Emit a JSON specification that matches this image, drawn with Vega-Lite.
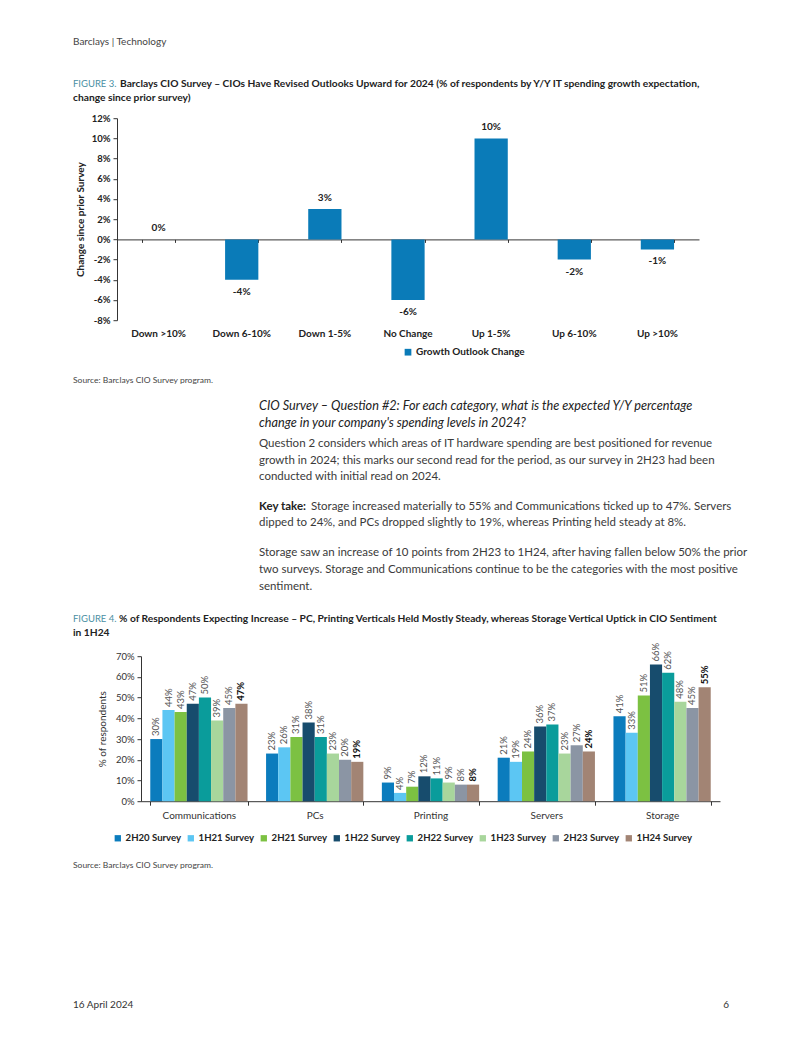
{
  "$schema": "https://vega.github.io/schema/vega-lite/v6.json",
  "background": "white",
  "padding": {"left": 73, "top": 36.2, "right": 5, "bottom": 5},
  "spacing": 0,
  "bounds": "flush",
  "resolve": {"scale": {"color": "independent"}, "legend": {"color": "independent"}},
  "config": {
    "font": "Lato",
    "view": {"stroke": null},
    "title": {"anchor": "start", "frame": "group", "orient": "bottom", "baseline": "top", "dx": -44, "font": "Lato", "subtitleFont": "Lato", "fontWeight": "normal", "color": "#222"},
    "axis": {"grid": false, "labelFont": "Lato", "titleFont": "Lato", "domainColor": "#333", "tickColor": "#333", "labelColor": "#222", "titleColor": "#222"},
    "legend": {"labelFont": "Lato"}
  },
  "vconcat": [
    {"width": 582, "height": 1, "data": {"values": []}, "mark": "point",
     "title": {"text": "Barclays | Technology", "fontSize": 10, "color": "#444", "offset": -79.1}},
    {"width": 582, "height": 1, "data": {"values": []}, "mark": "point",
     "title": {"text": "FIGURE 3.", "fontSize": 9.5, "color": "#4a8fa3", "offset": -38,
       "subtitle": "change since prior survey)", "subtitleFontSize": 10.25, "subtitleFontWeight": "bold", "subtitleColor": "#222", "subtitlePadding": 3.9}},
    {"width": 582, "height": 1, "data": {"values": []}, "mark": "point",
     "title": {"text": "Barclays CIO Survey – CIOs Have Revised Outlooks Upward for 2024 (% of respondents by Y/Y IT spending growth expectation,",
       "fontSize": 10.25, "fontWeight": "bold", "color": "#222", "dx": 3, "offset": -39.6}},
    {
      "width": 582, "height": 202,
      "data": {"values": [
        {"bucket": "Down >10%", "change": 0, "label": "0%"},
        {"bucket": "Down 6-10%", "change": -4, "label": "-4%"},
        {"bucket": "Down 1-5%", "change": 3, "label": "3%"},
        {"bucket": "No Change", "change": -6, "label": "-6%"},
        {"bucket": "Up 1-5%", "change": 10, "label": "10%"},
        {"bucket": "Up 6-10%", "change": -2, "label": "-2%"},
        {"bucket": "Up >10%", "change": -1, "label": "-1%"}
      ]},
      "encoding": {
        "y": {"field": "change", "type": "quantitative",
          "scale": {"domain": [-8, 12], "nice": false, "zero": false},
          "axis": {"values": [-8, -6, -4, -2, 0, 2, 4, 6, 8, 10, 12], "labelExpr": "datum.value + '%'",
            "labelFontSize": 9.5, "labelFontWeight": "bold", "labelPadding": 3, "tickSize": 4,
            "title": "Change since prior Survey", "titleFontSize": 10, "titleFontWeight": "bold", "titlePadding": 6}}
      },
      "layer": [
        {"mark": {"type": "bar", "opacity": 0},
         "encoding": {"x": {"field": "bucket", "type": "nominal", "sort": null,
           "scale": {"paddingInner": 0.6, "paddingOuter": 0.3},
           "axis": {"orient": "bottom", "offset": -80.8, "labels": false, "domain": true, "ticks": true, "tickBand": "extent", "tickSize": 3, "title": null}}}},
        {"mark": {"type": "bar"},
         "encoding": {"x": {"field": "bucket", "type": "nominal", "sort": null,
           "axis": {"orient": "bottom", "labels": true, "domain": false, "ticks": false, "labelPadding": 8, "labelAngle": 0, "labelFontSize": 10, "labelFontWeight": "bold", "title": null}},
           "color": {"datum": "Growth Outlook Change", "scale": {"range": ["#0a7bb8"]},
             "legend": {"orient": "none", "legendX": 286, "legendY": 229, "title": null, "symbolType": "square", "symbolSize": 45, "symbolStrokeWidth": 0, "labelFontSize": 10, "labelFontWeight": "bold", "labelColor": "#222", "labelOffset": 3}}}},
        {"transform": [{"filter": "datum.change >= 0"}],
         "mark": {"type": "text", "dy": -11, "baseline": "middle", "fontSize": 10, "fontWeight": "bold", "color": "#222"},
         "encoding": {"x": {"field": "bucket", "type": "nominal", "sort": null, "axis": null}, "text": {"field": "label"}}},
        {"transform": [{"filter": "datum.change < 0"}],
         "mark": {"type": "text", "dy": 12, "baseline": "middle", "fontSize": 10, "fontWeight": "bold", "color": "#222"},
         "encoding": {"x": {"field": "bucket", "type": "nominal", "sort": null, "axis": null}, "text": {"field": "label"}}}
      ],
      "resolve": {"axis": {"x": "independent"}}
    },
    {"width": 582, "height": 1, "data": {"values": []}, "mark": "point",
     "title": {"text": "Source: Barclays CIO Survey program.", "fontSize": 8.5, "color": "#444", "offset": 54.7}},
    {"width": 582, "height": 1, "data": {"values": []}, "mark": "point",
     "title": {"text": ["CIO Survey – Question #2: For each category, what is the expected Y/Y percentage", "change in your company's spending levels in 2024?"],
       "fontStyle": "italic", "fontSize": 12.7, "lineHeight": 17.4, "color": "#222", "dx": 142, "offset": 77.4}},
    {"width": 582, "height": 1, "data": {"values": []}, "mark": "point",
     "title": {"text": ["Question 2 considers which areas of IT hardware spending are best positioned for revenue", "growth in 2024; this marks our second read for the period, as our survey in 2H23 had been", "conducted with initial read on 2024."],
       "fontSize": 11.5, "lineHeight": 16.7, "color": "#3a3a3a", "dx": 142, "offset": 114.9}},
    {"width": 582, "height": 1, "data": {"values": []}, "mark": "point",
     "title": {"text": "Key take:", "fontSize": 11.5, "fontWeight": "bold", "color": "#222", "dx": 142, "offset": 176.6,
       "subtitle": "dipped to 24%, and PCs dropped slightly to 19%, whereas Printing held steady at 8%.",
       "subtitleFontSize": 11.5, "subtitleColor": "#3a3a3a", "subtitlePadding": 5.2}},
    {"width": 582, "height": 1, "data": {"values": []}, "mark": "point",
     "title": {"text": "Storage increased materially to 55% and Communications ticked up to 47%. Servers",
       "fontSize": 11.5, "color": "#3a3a3a", "dx": 194, "offset": 175.6}},
    {"width": 582, "height": 1, "data": {"values": []}, "mark": "point",
     "title": {"text": ["Storage saw an increase of 10 points from 2H23 to 1H24, after having fallen below 50% the prior", "two surveys. Storage and Communications continue to be the categories with the most positive", "sentiment."],
       "fontSize": 11.5, "lineHeight": 16.7, "color": "#3a3a3a", "dx": 142, "offset": 221.3}},
    {"width": 582, "height": 1, "data": {"values": []}, "mark": "point",
     "title": {"text": "FIGURE 4.", "fontSize": 9.5, "color": "#4a8fa3", "offset": 287.1,
       "subtitle": "in 1H24", "subtitleFontSize": 10.25, "subtitleFontWeight": "bold", "subtitleColor": "#222", "subtitlePadding": 3.9}},
    {"width": 582, "height": 328.7, "data": {"values": []}, "mark": "point",
     "title": {"text": "% of Respondents Expecting Increase – PC, Printing Verticals Held Mostly Steady, whereas Storage Vertical Uptick in CIO Sentiment",
       "fontSize": 10.25, "fontWeight": "bold", "color": "#222", "dx": 2, "offset": -42.2}},
    {
      "width": 603, "height": 145,
      "data": {"values": [
        {"category": "Communications", "survey": "2H20 Survey", "share": 0.30},
        {"category": "Communications", "survey": "1H21 Survey", "share": 0.44},
        {"category": "Communications", "survey": "2H21 Survey", "share": 0.43},
        {"category": "Communications", "survey": "1H22 Survey", "share": 0.47},
        {"category": "Communications", "survey": "2H22 Survey", "share": 0.50},
        {"category": "Communications", "survey": "1H23 Survey", "share": 0.39},
        {"category": "Communications", "survey": "2H23 Survey", "share": 0.45},
        {"category": "Communications", "survey": "1H24 Survey", "share": 0.47},
        {"category": "PCs", "survey": "2H20 Survey", "share": 0.23},
        {"category": "PCs", "survey": "1H21 Survey", "share": 0.26},
        {"category": "PCs", "survey": "2H21 Survey", "share": 0.31},
        {"category": "PCs", "survey": "1H22 Survey", "share": 0.38},
        {"category": "PCs", "survey": "2H22 Survey", "share": 0.31},
        {"category": "PCs", "survey": "1H23 Survey", "share": 0.23},
        {"category": "PCs", "survey": "2H23 Survey", "share": 0.20},
        {"category": "PCs", "survey": "1H24 Survey", "share": 0.19},
        {"category": "Printing", "survey": "2H20 Survey", "share": 0.09},
        {"category": "Printing", "survey": "1H21 Survey", "share": 0.04},
        {"category": "Printing", "survey": "2H21 Survey", "share": 0.07},
        {"category": "Printing", "survey": "1H22 Survey", "share": 0.12},
        {"category": "Printing", "survey": "2H22 Survey", "share": 0.11},
        {"category": "Printing", "survey": "1H23 Survey", "share": 0.09},
        {"category": "Printing", "survey": "2H23 Survey", "share": 0.08},
        {"category": "Printing", "survey": "1H24 Survey", "share": 0.08},
        {"category": "Servers", "survey": "2H20 Survey", "share": 0.21},
        {"category": "Servers", "survey": "1H21 Survey", "share": 0.19},
        {"category": "Servers", "survey": "2H21 Survey", "share": 0.24},
        {"category": "Servers", "survey": "1H22 Survey", "share": 0.36},
        {"category": "Servers", "survey": "2H22 Survey", "share": 0.37},
        {"category": "Servers", "survey": "1H23 Survey", "share": 0.23},
        {"category": "Servers", "survey": "2H23 Survey", "share": 0.27},
        {"category": "Servers", "survey": "1H24 Survey", "share": 0.24},
        {"category": "Storage", "survey": "2H20 Survey", "share": 0.41},
        {"category": "Storage", "survey": "1H21 Survey", "share": 0.33},
        {"category": "Storage", "survey": "2H21 Survey", "share": 0.51},
        {"category": "Storage", "survey": "1H22 Survey", "share": 0.66},
        {"category": "Storage", "survey": "2H22 Survey", "share": 0.62},
        {"category": "Storage", "survey": "1H23 Survey", "share": 0.48},
        {"category": "Storage", "survey": "2H23 Survey", "share": 0.45},
        {"category": "Storage", "survey": "1H24 Survey", "share": 0.55}
      ]},
      "encoding": {
        "x": {"field": "category", "type": "nominal", "sort": null,
          "scale": {"range": [24, 603], "paddingInner": 0.16, "paddingOuter": 0.08},
          "axis": {"title": null, "labelAngle": 0, "labelFontSize": 10, "labelColor": "#333", "labelPadding": 5, "tickSize": 4, "tickBand": "extent", "domain": true}},
        "xOffset": {"field": "survey", "type": "nominal",
          "sort": ["2H20 Survey", "1H21 Survey", "2H21 Survey", "1H22 Survey", "2H22 Survey", "1H23 Survey", "2H23 Survey", "1H24 Survey"],
          "scale": {"paddingInner": 0, "paddingOuter": 0}},
        "y": {"field": "share", "type": "quantitative",
          "scale": {"domain": [0, 0.7], "nice": false},
          "axis": {"values": [0, 0.1, 0.2, 0.3, 0.4, 0.5, 0.6, 0.7], "format": ".0%", "offset": -24,
            "labelFontSize": 9.5, "labelColor": "#333", "labelPadding": 3, "tickSize": 4,
            "title": "% of respondents", "titleFontSize": 10, "titleFontWeight": "normal", "titleColor": "#333", "titlePadding": 8}}
      },
      "layer": [
        {"mark": {"type": "bar"},
         "encoding": {"color": {"field": "survey", "type": "nominal",
           "sort": ["2H20 Survey", "1H21 Survey", "2H21 Survey", "1H22 Survey", "2H22 Survey", "1H23 Survey", "2H23 Survey", "1H24 Survey"],
           "scale": {"domain": ["2H20 Survey", "1H21 Survey", "2H21 Survey", "1H22 Survey", "2H22 Survey", "1H23 Survey", "2H23 Survey", "1H24 Survey"],
             "range": ["#0b7cbd", "#5cc6f3", "#7cc142", "#174c6d", "#0a9c9b", "#a8d69c", "#8b95a4", "#a28474"]},
           "legend": {"orient": "none", "legendX": -4, "legendY": 177, "direction": "horizontal", "columns": 8, "title": null,
             "symbolType": "square", "symbolSize": 40, "symbolStrokeWidth": 0, "labelFontSize": 9.6, "labelFontWeight": "bold", "labelColor": "#222", "labelOffset": 3, "columnPadding": 4}}}},
        {"transform": [{"filter": "datum.survey != '1H24 Survey'"}],
         "mark": {"type": "text", "angle": 270, "align": "left", "baseline": "middle", "dx": 3, "fontSize": 9.5, "color": "#555"},
         "encoding": {"text": {"field": "share", "type": "quantitative", "format": ".0%"}}},
        {"transform": [{"filter": "datum.survey == '1H24 Survey'"}],
         "mark": {"type": "text", "angle": 270, "align": "left", "baseline": "middle", "dx": 3, "fontSize": 9.5, "fontWeight": "bold", "color": "#111"},
         "encoding": {"text": {"field": "share", "type": "quantitative", "format": ".0%"}}}
      ]
    },
    {"width": 582, "height": 1, "data": {"values": []}, "mark": "point",
     "title": {"text": "Source: Barclays CIO Survey program.", "fontSize": 8.5, "color": "#444", "offset": 59.3}},
    {"width": 582, "height": 1, "data": {"values": []}, "mark": "point",
     "title": {"text": "16 April 2024", "fontSize": 10, "color": "#333", "offset": 196.6}},
    {"width": 612, "height": 1, "data": {"values": []}, "mark": "point",
     "title": {"text": "6", "fontSize": 10, "color": "#333", "offset": 195.6, "anchor": "end", "dx": 0}}
  ]
}
